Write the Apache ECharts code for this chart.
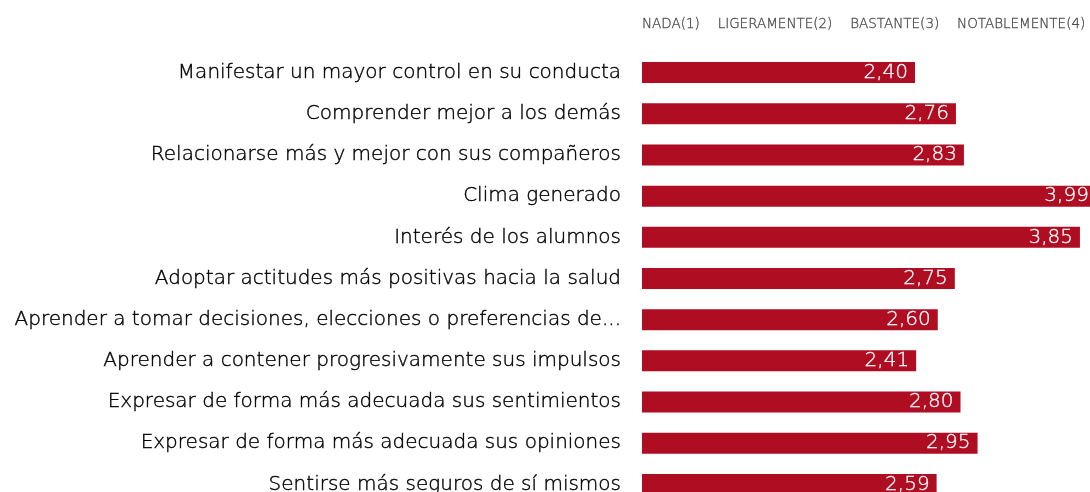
<!DOCTYPE html>
<html>
<head>
<meta charset="utf-8">
<script src="https://cdn.jsdelivr.net/npm/echarts@6/dist/echarts.min.js"></script>
<style>
  html, body { margin: 0; padding: 0; background: #fff; }
  #chart { width: 1090px; height: 492px; }
</style>
</head>
<body>
<div id="chart"></div>
<script>
// categorias (de arriba a abajo)
const items = [
  'Manifestar un mayor control en su conducta',
  'Comprender mejor a los demás',
  'Relacionarse más y mejor con sus compañeros',
  'Clima generado',
  'Interés de los alumnos',
  'Adoptar actitudes más positivas hacia la salud',
  'Aprender a tomar decisiones, elecciones o preferencias de...',
  'Aprender a contener progresivamente sus impulsos',
  'Expresar de forma más adecuada sus sentimientos',
  'Expresar de forma más adecuada sus opiniones',
  'Sentirse más seguros de sí mismos'
];
const scores = [2.40, 2.76, 2.83, 3.99, 3.85, 2.75, 2.60, 2.41, 2.80, 2.95, 2.59];
const scaleLabels = ['NADA(1)', 'LIGERAMENTE(2)', 'BASTANTE(3)', 'NOTABLEMENTE(4)'];

const chart = echarts.init(document.getElementById('chart'));

chart.setOption({
  animation: false,
  title: {
    text: scaleLabels.join('\u2003 '),
    left: 642,
    top: 17,
    padding: 0,
    textStyle: {
      fontFamily: 'DejaVu Sans', fontSize: 13.5, fontWeight: 200, color: '#444',
      textBorderColor: '#555', textBorderWidth: 0.3
    }
  },
  grid: { left: 642, top: 52, height: 453, right: -7, outerBoundsMode: 'none' },
  xAxis: {
    type: 'value',
    min: 0,
    max: 4,
    show: false
  },
  yAxis: {
    type: 'category',
    data: items,
    inverse: true,
    axisLine: { show: false },
    axisTick: { show: false },
    axisLabel: {
      margin: 21,
      fontFamily: 'DejaVu Sans',
      fontWeight: 200,
      fontSize: 20,
      color: '#000',
      textBorderColor: '#000',
      textBorderWidth: 0.4
    }
  },
  series: [{
    type: 'bar',
    data: scores,
    barWidth: 21,
    itemStyle: { color: '#ae0d22' },
    label: {
      show: true,
      position: 'insideRight',
      distance: 7,
      fontFamily: 'DejaVu Sans',
      fontWeight: 200,
      fontSize: 20,
      color: '#fff',
      textBorderColor: '#fff',
      textBorderWidth: 0.3,
      formatter: p => p.value.toFixed(2).replace('.', ',')
    }
  }]
});
</script>
</body>
</html>
